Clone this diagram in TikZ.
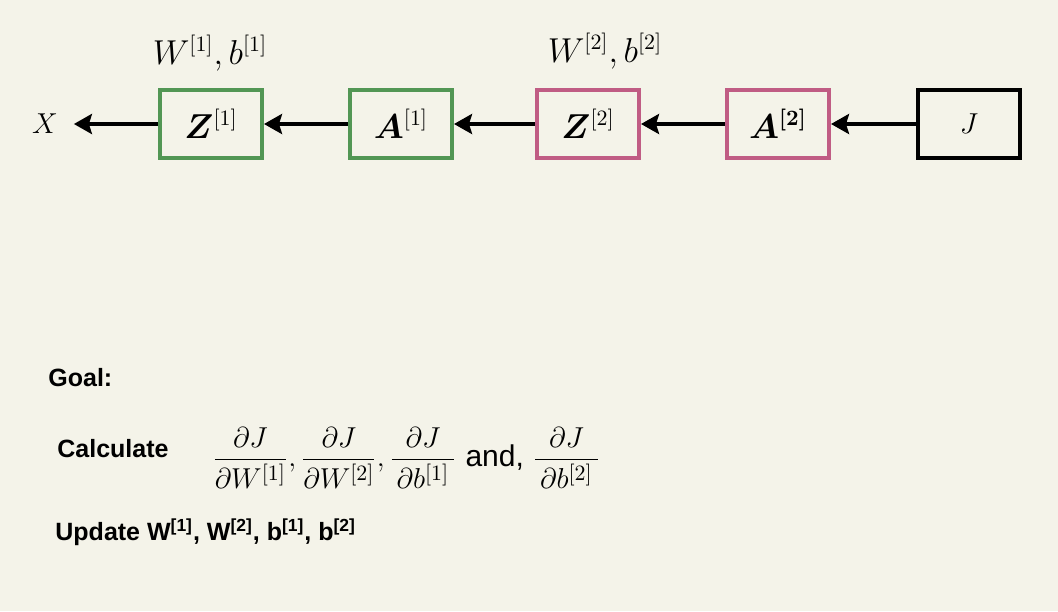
\documentclass[tikz,border=0pt]{standalone}
\usepackage{fontspec}
\setsansfont{Liberation Sans}
\usepackage{amsmath, amssymb, bm}
\usetikzlibrary{arrows.meta, positioning}
\definecolor{bgcream}{RGB}{244, 243, 233}
\definecolor{layergreen}{RGB}{82, 150, 84}
\definecolor{layerpink}{RGB}{192, 92, 132}

\begin{document}
\begin{tikzpicture}[x=0.5pt, y=-0.5pt,
  layerbox/.style={draw, line width=2pt, minimum width=51pt, minimum height=34pt, inner sep=0pt, font=\fontsize{16}{18}\selectfont},
  conn/.style={-{Stealth[length=9pt, width=10pt, inset=1.5pt]}, line width=1.8pt},
  bodytext/.style={font=\fontsize{12.5}{15}\selectfont\sffamily\bfseries, anchor=west, inner sep=0pt}
]
  % Background
  \fill[bgcream] (0, 0) rectangle (1058, 611);
  \useasboundingbox (0, 0) rectangle (1058, 611);

  % Backward chain
  \node[font=\fontsize{14}{16}\selectfont] (X) at (45, 124) {$X$};
  \node[layerbox, draw=layergreen] (Z1) at (211, 124) {$\bm{Z}^{[1]}$};
  \node[layerbox, draw=layergreen] (A1) at (401, 124) {$\bm{A}^{[1]}$};
  \node[layerbox, draw=layerpink] (Z2) at (588, 124) {$\bm{Z}^{[2]}$};
  \node[layerbox, draw=layerpink] (A2) at (778, 124) {$\bm{A}^{\bm{[2]}}$};
  \node[layerbox, draw=black] (J) at (969, 124) {\fontsize{14}{16}\selectfont$J$};

  \draw[conn] (J) -- (A2);
  \draw[conn] (A2) -- (Z2);
  \draw[conn] (Z2) -- (A1);
  \draw[conn] (A1) -- (Z1);
  \draw[conn, shorten >=4.5pt] (Z1) -- (X);

  % Parameters
  \node[font=\fontsize{16}{18}\selectfont] (WbOne) at (210, 53) {$W^{[1]}, b^{[1]}$};
  \node[font=\fontsize{16}{18}\selectfont] (WbTwo) at (605, 51) {$W^{[2]}, b^{[2]}$};

  % Goal
  \node[bodytext] (goal) at (48, 378) {Goal:};
  \node[bodytext] (calc) at (57, 449) {Calculate};
  \node[font=\fontsize{15}{18}\selectfont, anchor=west, inner sep=0pt] (grads) at (212, 458) {
    $\dfrac{\partial J}{\partial W^{[1]}},\dfrac{\partial J}{\partial W^{[2]}},\dfrac{\partial J}{\,\partial b^{[1]}\,}$ \textsf{and,} $\dfrac{\partial J}{\,\partial b^{[2]}\,}$
  };
  \node[bodytext] (update) at (55, 532) {Update W\textsuperscript{[1]}, W\textsuperscript{[2]}, b\textsuperscript{[1]}, b\textsuperscript{[2]}};
\end{tikzpicture}
\end{document}
